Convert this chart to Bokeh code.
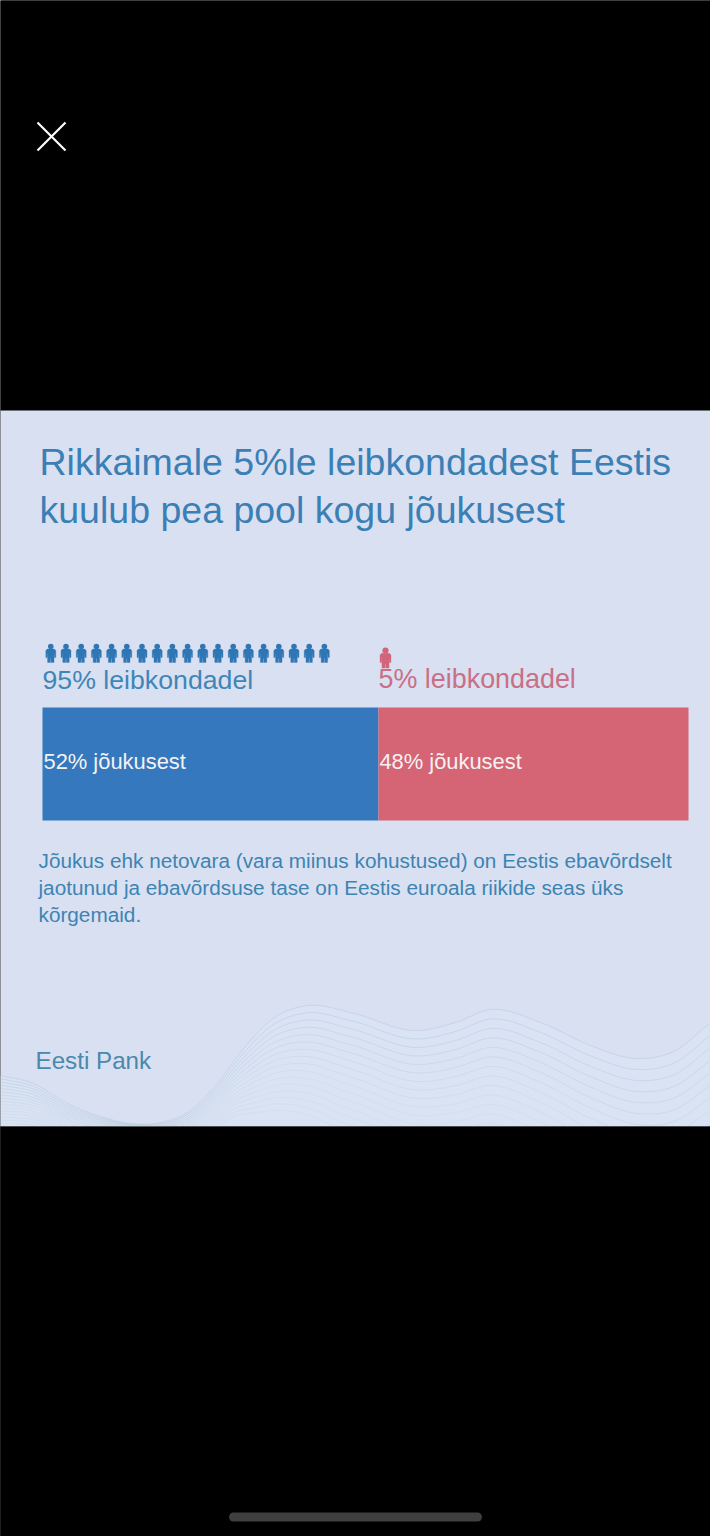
import numpy as np
from bokeh.plotting import figure
from bokeh.models import Range1d
from bokeh.core.properties import value
from bokeh.embed import file_html
from bokeh.resources import INLINE

# --- data
title_lines = ["Rikkaimale 5%le leibkondadest Eestis", "kuulub pea pool kogu jõukusest"]
household_pct = [95, 5]
household_labels = ["95% leibkondadel", "5% leibkondadel"]
wealth_pct = [52, 48]
wealth_labels = ["52% jõukusest", "48% jõukusest"]
note_lines = [
    "Jõukus ehk netovara (vara miinus kohustused) on Eestis ebavõrdselt",
    "jaotunud ja ebavõrdsuse tase on Eestis euroala riikide seas üks",
    "kõrgemaid.",
]
brand = "Eesti Pank"

# decorative wave
wave_x = [0, 33, 67, 100, 130, 160, 190, 215, 240, 270, 307, 350, 417, 455, 490, 540, 590, 637, 675, 710]
wave_top = [1075, 1083, 1103, 1116, 1123, 1122, 1110, 1085, 1052, 1020, 1005, 1012, 1030, 1022, 1009, 1022, 1045, 1058, 1050, 1022]
gap_x = [0, 70, 135, 190, 230, 260, 307, 417, 490, 637, 710]
gap_val = [3.2, 2.2, 0.4, 2, 3.5, 5.5, 7.3, 8.5, 9.5, 11, 12.5]

BLUE = "#3578bd"
RED = "#d56474"
PANEL = "#d9e0f1"
FONT = value("Liberation Sans")

p = figure(width=710, height=1536, x_range=Range1d(0, 710), y_range=Range1d(1536, 0),
           output_backend="svg", toolbar_location=None, min_border=0,
           background_fill_color="black", border_fill_color="black")
p.axis.visible = False
p.grid.visible = False
p.outline_line_color = None

# full-bleed black behind everything, with the edges overdrawn
p.quad(left=[-5], right=[715], top=[-5], bottom=[1541], fill_color="black", line_color="black", line_width=4)
# panel
p.quad(left=[-5], right=[715], top=[410], bottom=[1126], fill_color=PANEL, line_color=PANEL, line_width=0.01)


def smooth(xs, ys, xnew):
    xs, ys = np.asarray(xs, float), np.asarray(ys, float)
    m = np.gradient(ys, xs)
    i = np.clip(np.searchsorted(xs, xnew) - 1, 0, len(xs) - 2)
    h = xs[i + 1] - xs[i]
    t = (xnew - xs[i]) / h
    return ((2*t**3 - 3*t**2 + 1) * ys[i] + (t**3 - 2*t**2 + t) * h * m[i]
            + (-2*t**3 + 3*t**2) * ys[i + 1] + (t**3 - t**2) * h * m[i + 1])


xx = np.arange(0, 711, 3.0)
top = smooth(wave_x, wave_top, xx)
gap = smooth(gap_x, gap_val, xx)
p.varea(x=xx, y1=top, y2=1126, fill_color="#d8e4f3", fill_alpha=0.75)
for k in range(16):
    a = max(0.75 - 0.05 * k, 0.25)
    p.line(xx, top + k * gap, line_color="#c0cfe0", line_width=1, line_alpha=a)

# black below the panel hides the rest of the wave
p.quad(left=[-5], right=[715], top=[1126], bottom=[1541], fill_color="black", line_color="black", line_width=0.01)

# close mark
p.line([37, 65], [122, 150], line_color="white", line_width=2.2)
p.line([37, 65], [150, 122], line_color="white", line_width=2.2)
# home indicator
p.line([233, 477], [1516.5, 1516.5], line_color="#3f3f3f", line_width=9, line_cap="round")

# title
for yy, t in zip([461, 509], title_lines):
    p.text([39], [yy], text=[t], text_font=FONT, text_font_size="37.5px", text_color="#3a7fb5",
           text_baseline="alphabetic")

# people icons: one per five percent
body_x = np.array([-5, -3.5, 3.5, 5, 5, 3.7, 3.4, 3.2, 0.3, 0.2, -0.2, -0.3, -3.2, -3.4, -3.7, -5])
body_y = np.array([4, 2.4, 2.4, 4, 11, 11, 6, 16, 16, 12, 12, 16, 16, 6, 11, 11])


def people(n, x0, step, y0, color, scale=1.0):
    cx = [x0 + step * i for i in range(n)]
    p.scatter(cx, [y0] * n, marker="circle", size=5.6 * scale, fill_color=color, line_color=None)
    p.patches([list(body_x * scale + c) for c in cx], [list(body_y * scale + y0) for _ in cx],
              fill_color=color, line_color=color, line_width=0.3)


people(household_pct[0] // 5, 50.3, 15.2, 646, "#2f76b5")
people(household_pct[1] // 5, 385, 15.2, 650, "#d2637a", 1.1)

# household labels
p.text([42], [679], text=[household_labels[0]], text_font=FONT, text_font_size="26.7px",
       text_color="#3f86b8", text_baseline="alphabetic")
p.text([378], [678], text=[household_labels[1]], text_font=FONT, text_font_size="26.9px",
       text_color="#c96f86", text_baseline="alphabetic")

# stacked wealth bar, on its own 0-100 scale
px_per_pct = (688 - 42) / 100
p.extra_x_ranges["share"] = Range1d(-42 / px_per_pct, (710 - 42) / px_per_pct)
lefts = np.cumsum([0] + wealth_pct[:-1])
rights = np.cumsum(wealth_pct)
p.quad(left=lefts, right=rights, top=[707] * 2, bottom=[820] * 2, fill_color=[BLUE, RED],
       line_color=[BLUE, RED], line_width=0.01, x_range_name="share")
p.text(lefts + 0.15, [761] * 2, text=wealth_labels, text_font=FONT, text_font_size="21.9px",
       text_color="#f4f1f1", text_baseline="alphabetic", x_range_name="share")

# note
for yy, t in zip([860, 887, 914], note_lines):
    p.text([38], [yy], text=[t], text_font=FONT, text_font_size="20.75px", text_color="#3d84b3",
           text_baseline="alphabetic")

p.text([35], [1060], text=[brand], text_font=FONT, text_font_size="24.2px", text_color="#4a88ad",
       text_baseline="alphabetic")

open("out.html", "w").write(file_html(p, INLINE))
